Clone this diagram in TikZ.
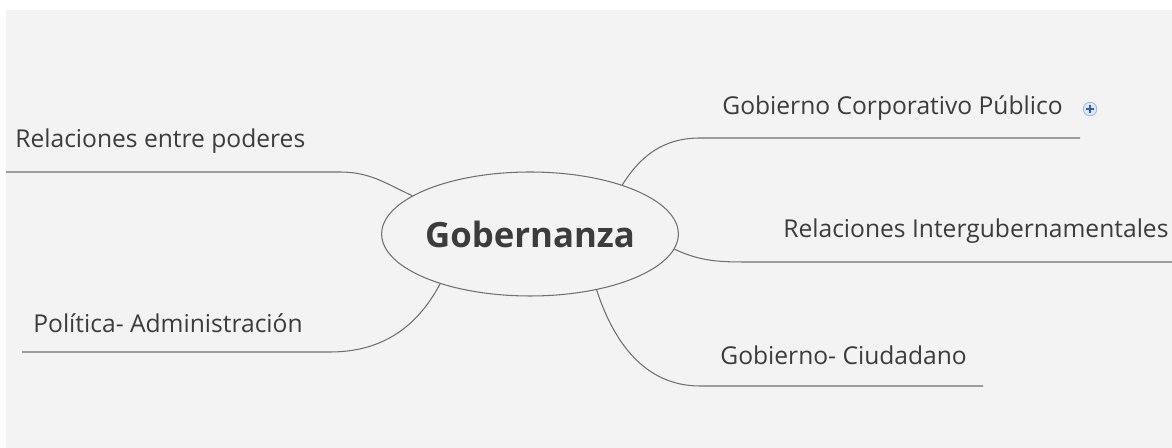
\documentclass[tikz,border=0pt]{standalone}
\usepackage{fontspec}
\setmainfont{Open Sans}
\usetikzlibrary{shapes.geometric}

\definecolor{fondo}{HTML}{F3F3F3}
\definecolor{texto}{HTML}{3C3C3C}
\definecolor{linea}{HTML}{707070}
\definecolor{azul}{HTML}{2F5EA8}
\definecolor{azulclaro}{HTML}{DCE8F8}

\tikzset{
	rama/.style={draw=linea, line width=0.6pt},
	etiq/.style={anchor=base west, inner sep=0pt, text=texto, font=\fontsize{14}{17}\selectfont},
}

\begin{document}
\begin{tikzpicture}[x=0.02cm,y=-0.02cm]
	\useasboundingbox (0,0) rectangle (1172,448);
	\fill [fondo] (6,10) rectangle (1172,448);

	% centro
	\node (g) [ellipse, rama, minimum width=5.88cm, minimum height=2.48cm, inner sep=0pt, text=texto, font=\fontsize{19.8}{24}\selectfont\bfseries] at (530,234) {Gobernanza};

	% ramas izquierda
	\node (v1) [etiq] at (15,148) {Relaciones entre poderes};
	\coordinate (a1) at (340,172);
	\coordinate (b1) at (6,172);
	\draw [rama] (g.162) to [out=155,in=0] (a1) -- (b1);

	\node (v2) [etiq] at (33,333) {Política- Administración};
	\coordinate (a2) at (330,352);
	\coordinate (b2) at (22,352);
	\draw [rama] (g.209) to [out=-118,in=0] (a2) -- (b2);

	% ramas derecha
	\node (v3) [etiq] at (722,115) {Gobierno Corporativo Público};
	\coordinate (a3) at (700,138);
	\coordinate (b3) at (1080,138);
	\draw [rama] (g.28) to [out=58,in=180] (a3) -- (b3);
	\node (mas) [circle, draw=azul!45, fill=azulclaro, line width=0.5pt, minimum size=0.27cm, inner sep=0pt] at (1090,109) {};
	\draw [azul, line width=0.7pt] ([xshift=-0.075cm]mas.center) -- ([xshift=0.075cm]mas.center);
	\draw [azul, line width=0.7pt] ([yshift=-0.075cm]mas.center) -- ([yshift=0.075cm]mas.center);

	\node (v4) [etiq] at (783,238) {Relaciones Intergubernamentales};
	\coordinate (a4) at (750,262);
	\coordinate (b4) at (1172,262);
	\draw [rama] (g.-6) to [out=-25,in=180] (a4) -- (b4);

	\node (v5) [etiq] at (720,365) {Gobierno- Ciudadano};
	\coordinate (a5) at (700,386);
	\coordinate (b5) at (983,386);
	\draw [rama] (g.-40) to [out=-72,in=180] (a5) -- (b5);

\end{tikzpicture}
\end{document}
